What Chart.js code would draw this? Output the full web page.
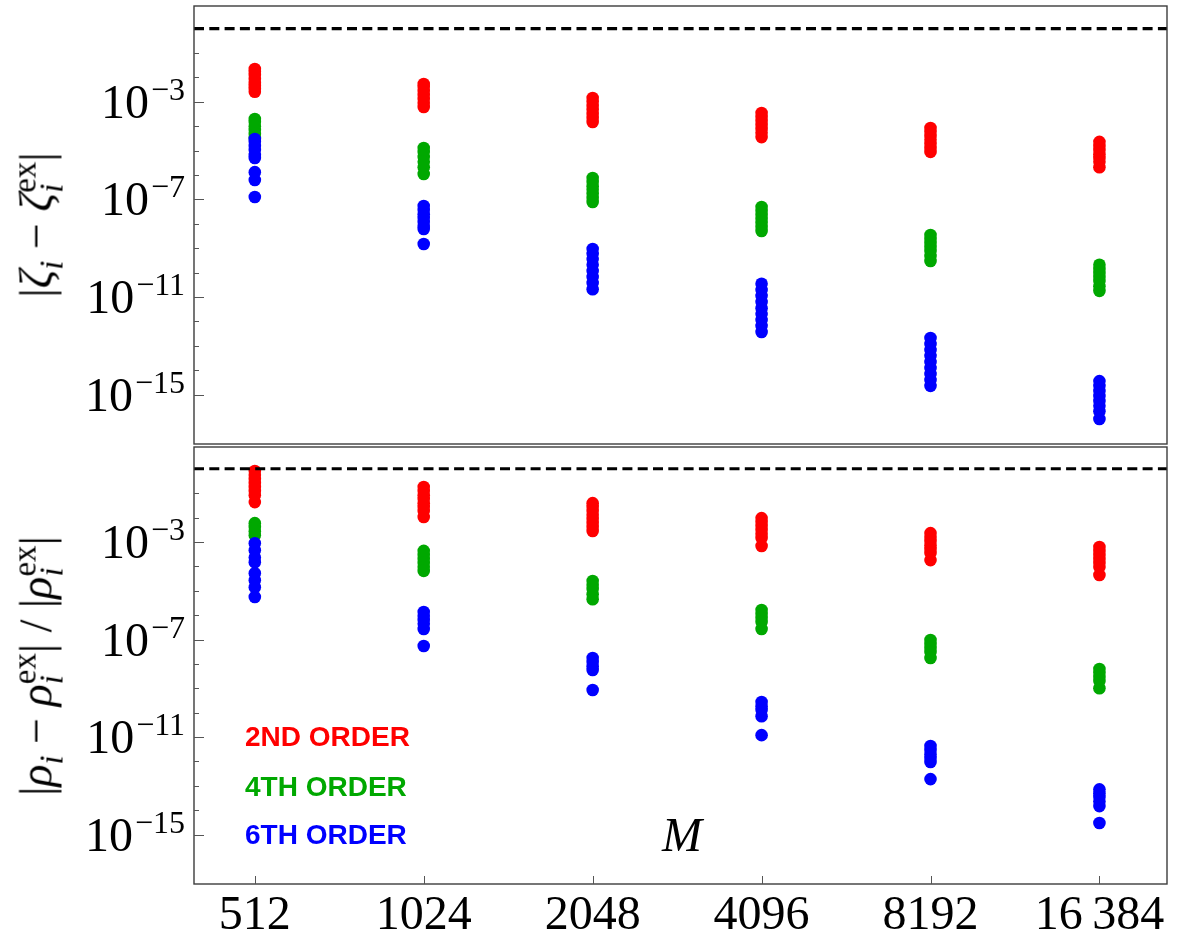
<!DOCTYPE html>
<html>
<head>
<meta charset="utf-8">
<script src="https://cdn.jsdelivr.net/npm/chart.js@4.4.1/dist/chart.umd.min.js"></script>
<style>
  body { margin: 0; background: #fff; }
  #wrap { position: relative; width: 1179px; height: 939px; overflow: hidden; font-family: 'Liberation Serif', serif; }
  canvas { position: absolute; left: 0; }
  #topChart { top: 0; }
  #botChart { top: 446px; }
  .ytitle { position: absolute; transform: translate(-50%, -50%) rotate(-90deg); white-space: nowrap; font-size: 46px; line-height: 46px; color: #000; }
  .ss { display: inline-block; font-size: 0.72em; line-height: 0.8em; vertical-align: -0.32em; text-align: left; }
  .ss span { display: block; }
  .sb { font-size: 0.72em; vertical-align: -0.32em; line-height: 0; }
  .legend { position: absolute; left: 245px; font-family: 'Liberation Sans', Arial, sans-serif; font-weight: bold; font-size: 28px; line-height: 28px; white-space: nowrap; }
  #mlabel { position: absolute; left: 662px; top: 811px; font-style: italic; font-size: 48px; line-height: 48px; }
</style>
</head>
<body>
<div id="wrap">
  <canvas id="topChart" width="1179" height="446"></canvas>
  <canvas id="botChart" width="1179" height="493"></canvas>

  <div class="ytitle" style="left:38px; top:225px;">|<i>ζ</i><span class="sb"><i>i</i></span> − <i>ζ</i><span class="ss"><span>ex</span><span><i>i</i></span></span>|</div>
  <div class="ytitle" style="left:38px; top:666px;">|<i>ρ</i><span class="sb"><i>i</i></span> − <i>ρ</i><span class="ss"><span>ex</span><span><i>i</i></span></span>| / |<i>ρ</i><span class="ss"><span>ex</span><span><i>i</i></span></span>|</div>

  <div class="legend" style="top:723px; color:#ff0000;">2ND ORDER</div>
  <div class="legend" style="top:773px; color:#00a800;">4TH ORDER</div>
  <div class="legend" style="top:821px; color:#0000ff;">6TH ORDER</div>
  <div id="mlabel">M</div>
</div>

<script>
// grid sizes M on the horizontal axis
const sizes = ['512', '1024', '2048', '4096', '8192', '16\u2009384'];

// |zeta_i - zeta_i^ex|, one inner list per M
const zeta2nd = [
  [2.24e-2, 1.70e-2, 1.26e-2, 8.7e-3, 5.9e-3, 4.5e-3, 3.4e-3, 2.6e-3],
  [5.4e-3, 4.1e-3, 2.8e-3, 1.9e-3, 1.32e-3, 8.9e-4, 6.2e-4],
  [1.45e-3, 1.0e-3, 6.8e-4, 4.7e-4, 3.2e-4, 2.2e-4, 1.5e-4],
  [3.5e-4, 2.4e-4, 1.66e-4, 1.12e-4, 7.8e-5, 5.4e-5, 3.6e-5],
  [8.5e-5, 5.9e-5, 4.0e-5, 2.8e-5, 1.9e-5, 1.29e-5, 8.9e-6],
  [2.3e-5, 1.55e-5, 1.07e-5, 7.2e-6, 5.0e-6, 3.5e-6, 2.1e-6]
];
const zeta4th = [
  [2.0e-4, 1.5e-4, 1.0e-4, 7.1e-5, 4.8e-5, 3.3e-5],
  [1.29e-5, 8.9e-6, 5.5e-6, 3.5e-6, 2.1e-6, 1.1e-6],
  [7.6e-7, 5.2e-7, 3.5e-7, 2.5e-7, 1.7e-7, 1.15e-7, 7.9e-8],
  [4.9e-8, 3.4e-8, 2.3e-8, 1.6e-8, 1.1e-8, 7.4e-9, 5.1e-9],
  [3.5e-9, 2.4e-9, 1.66e-9, 1.12e-9, 7.8e-10, 4.8e-10, 3.0e-10],
  [2.1e-10, 1.41e-10, 9.8e-11, 6.6e-11, 4.6e-11, 2.8e-11, 1.8e-11]
];
const zeta6th = [
  [3.0e-5, 2.3e-5, 1.55e-5, 1.07e-5, 6.6e-6, 5.0e-6, 1.32e-6, 6.3e-7, 1.26e-7],
  [5.4e-8, 3.7e-8, 2.5e-8, 1.74e-8, 1.2e-8, 8.1e-9, 6.2e-9, 1.5e-9],
  [9.3e-10, 5.9e-10, 3.6e-10, 2.1e-10, 1.17e-10, 6.6e-11, 3.8e-11, 2.1e-11],
  [3.5e-11, 1.95e-11, 1.12e-11, 6.3e-12, 3.5e-12, 2.0e-12, 1.15e-12, 6.6e-13, 3.7e-13],
  [2.1e-13, 1.2e-13, 6.8e-14, 3.9e-14, 2.2e-14, 1.23e-14, 7.1e-15, 4.0e-15, 2.3e-15],
  [3.6e-15, 2.3e-15, 1.41e-15, 8.9e-16, 5.5e-16, 3.5e-16, 2.1e-16, 1.0e-16]
];

// |rho_i - rho_i^ex| / |rho_i^ex|
const rho2nd = [
  [0.81, 0.55, 0.38, 0.26, 0.18, 0.123, 0.083, 0.043],
  [0.18, 0.123, 0.083, 0.058, 0.039, 0.027, 0.0186, 0.0105],
  [0.039, 0.027, 0.0186, 0.0126, 8.7e-3, 6.0e-3, 4.1e-3, 2.8e-3],
  [9.5e-3, 6.6e-3, 4.5e-3, 3.1e-3, 2.1e-3, 1.45e-3, 6.8e-4],
  [2.3e-3, 1.58e-3, 1.1e-3, 7.4e-4, 5.1e-4, 3.5e-4, 1.8e-4],
  [6.2e-4, 4.3e-4, 2.9e-4, 2.0e-4, 1.38e-4, 9.3e-5, 4.4e-5]
];
const rho4th = [
  [5.9e-3, 4.1e-3, 2.75e-3, 1.9e-3],
  [4.3e-4, 2.9e-4, 2.0e-4, 1.38e-4, 9.3e-5, 6.5e-5],
  [2.5e-5, 1.7e-5, 1.17e-5, 7.2e-6, 4.5e-6],
  [1.62e-6, 1.12e-6, 7.6e-7, 5.2e-7, 2.7e-7],
  [9.5e-8, 6.6e-8, 4.5e-8, 3.1e-8, 1.74e-8],
  [6.2e-9, 4.3e-9, 2.9e-9, 2.0e-9, 1.0e-9]
];
const rho6th = [
  [8.9e-4, 4.6e-4, 2.3e-4, 1.48e-4, 5.2e-5, 2.7e-5, 1.38e-5, 5.5e-6],
  [1.35e-6, 9.1e-7, 6.3e-7, 4.4e-7, 2.7e-7, 5.4e-8],
  [1.74e-8, 1.2e-8, 8.1e-9, 5.6e-9, 8.5e-10],
  [2.75e-10, 1.86e-10, 1.29e-10, 7.2e-11, 1.2e-11],
  [4.3e-12, 2.95e-12, 2.0e-12, 1.38e-12, 9.5e-13, 1.9e-13],
  [7.2e-14, 5.0e-14, 3.5e-14, 2.3e-14, 1.48e-14, 3.0e-15]
];

// reference level drawn dashed in both panels
const refLevel = 1;
const labelledDecades = [-3, -7, -11, -15];

const RED = '#ff0000';
const GREEN = '#00a800';
const BLUE = '#0000ff';
const X_MIN = -0.36;
const X_MAX = 5.4;

const toPoints = series => series.flatMap((vals, i) => vals.map(v => ({ x: i, y: v })));

// frame, inward ticks and 10^n labels
const panelDecor = {
  id: 'panelDecor',
  afterDraw(chart, args, opts) {
    const { ctx, chartArea: a } = chart;
    const ys = chart.scales.y;
    const xs = chart.scales.x;
    ctx.save();

    ctx.strokeStyle = '#3c3c3c';
    ctx.lineWidth = 1.4;
    ctx.strokeRect(a.left, a.top, a.right - a.left, a.bottom - a.top);

    // decade ticks on the left edge
    ctx.strokeStyle = '#555';
    ctx.lineWidth = 1;
    for (let e = -15; e <= -1; e++) {
      const y = Math.round(ys.getPixelForValue(Math.pow(10, e))) + 0.5;
      const len = labelledDecades.includes(e) ? 10 : 5;
      ctx.beginPath();
      ctx.moveTo(a.left, y);
      ctx.lineTo(a.left + len, y);
      ctx.stroke();
    }

    if (opts.xTicks) {
      sizes.forEach((_, i) => {
        const x = Math.round(xs.getPixelForValue(i)) + 0.5;
        ctx.beginPath();
        ctx.moveTo(x, a.bottom);
        ctx.lineTo(x, a.bottom - 8);
        ctx.stroke();
      });
    }

    ctx.fillStyle = '#000';
    ctx.textBaseline = 'alphabetic';
    ctx.textAlign = 'left';
    const right = a.left - 9;
    labelledDecades.forEach(e => {
      const y = ys.getPixelForValue(Math.pow(10, e));
      const exp = '\u2212' + Math.abs(e);
      ctx.font = '32px "Liberation Serif"';
      const ew = ctx.measureText(exp).width;
      ctx.fillText(exp, right - ew, y - 2);
      ctx.font = '48px "Liberation Serif"';
      const bw = ctx.measureText('10').width;
      ctx.fillText('10', right - ew - bw - 2, y + 16);
    });
    ctx.restore();
  }
};

function makePanel(id, s2, s4, s6, yMax, withAxis) {
  const dot = color => ({
    type: 'scatter',
    backgroundColor: color,
    borderWidth: 0,
    pointRadius: 6.3,
    pointHoverRadius: 6.3
  });
  return new Chart(document.getElementById(id), {
    type: 'scatter',
    data: {
      datasets: [
        { ...dot(RED), label: '2ND ORDER', data: toPoints(s2), order: 3 },
        { ...dot(GREEN), label: '4TH ORDER', data: toPoints(s4), order: 2 },
        { ...dot(BLUE), label: '6TH ORDER', data: toPoints(s6), order: 1 },
        {
          type: 'line',
          data: [{ x: X_MIN, y: refLevel }, { x: X_MAX, y: refLevel }],
          borderColor: '#000',
          borderWidth: 3.2,
          borderDash: [10, 5.3],
          pointRadius: 0,
          order: 0
        }
      ]
    },
    options: {
      responsive: false,
      animation: false,
      events: [],
      layout: {
        autoPadding: false,
        padding: { left: 194, right: 12, top: withAxis ? 1 : 6, bottom: withAxis ? 0 : 2 }
      },
      plugins: {
        legend: { display: false },
        tooltip: { enabled: false },
        panelDecor: { xTicks: withAxis }
      },
      scales: {
        x: {
          type: 'linear',
          display: withAxis,
          min: X_MIN,
          max: X_MAX,
          grid: { display: false, drawTicks: false },
          border: { display: false },
          afterBuildTicks: s => { s.ticks = sizes.map((_, i) => ({ value: i })); },
          afterFit: s => { s.height = withAxis ? 55 : 0; },
          ticks: {
            padding: 4,
            color: '#000',
            maxRotation: 0,
            autoSkip: false,
            font: { family: 'Liberation Serif', size: 48 },
            callback: v => sizes[v]
          }
        },
        y: {
          type: 'logarithmic',
          display: false,
          min: 9.5e-18,
          max: yMax
        }
      }
    },
    plugins: [panelDecor]
  });
}

makePanel('topChart', zeta2nd, zeta4th, zeta6th, 8.5, false);
makePanel('botChart', rho2nd, rho4th, rho6th, 7.8, true);
</script>
</body>
</html>
